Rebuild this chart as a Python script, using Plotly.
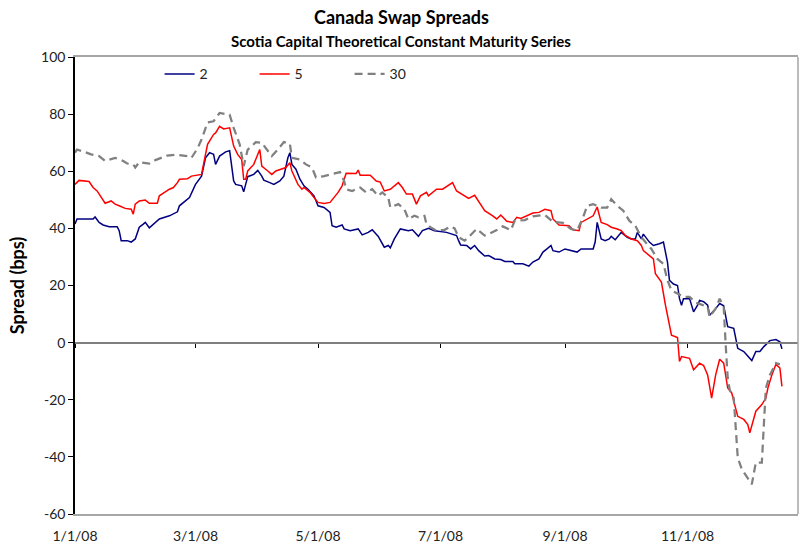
import plotly.graph_objects as go

# ---------------- data ----------------
dates_2y = ["2008-01-01","2008-01-02","2008-01-10","2008-01-11","2008-01-13","2008-01-15","2008-01-18","2008-01-22","2008-01-23","2008-01-24","2008-01-27","2008-01-29","2008-01-31",
            "2008-02-02","2008-02-04","2008-02-05","2008-02-07","2008-02-09","2008-02-12","2008-02-17","2008-02-21","2008-02-22","2008-02-27",
            "2008-03-01","2008-03-04","2008-03-06","2008-03-08","2008-03-10","2008-03-11","2008-03-13","2008-03-16","2008-03-18","2008-03-20","2008-03-21","2008-03-24","2008-03-25","2008-03-27","2008-03-30",
            "2008-04-01","2008-04-03","2008-04-04","2008-04-07","2008-04-09","2008-04-12","2008-04-14","2008-04-16","2008-04-17","2008-04-18","2008-04-20","2008-04-22","2008-04-24","2008-04-26","2008-04-29",
            "2008-05-01","2008-05-04","2008-05-07","2008-05-08","2008-05-10","2008-05-13","2008-05-14","2008-05-17","2008-05-21","2008-05-23","2008-05-26","2008-05-28","2008-05-31",
            "2008-06-03","2008-06-05","2008-06-06","2008-06-08","2008-06-11","2008-06-15","2008-06-17","2008-06-20","2008-06-22","2008-06-25","2008-06-28",
            "2008-07-04","2008-07-07","2008-07-09","2008-07-10","2008-07-11","2008-07-14","2008-07-16","2008-07-18","2008-07-20","2008-07-23","2008-07-25","2008-07-28","2008-07-31",
            "2008-08-02","2008-08-06","2008-08-07","2008-08-11","2008-08-14","2008-08-16","2008-08-19","2008-08-21","2008-08-23","2008-08-25","2008-08-26","2008-08-29",
            "2008-09-01","2008-09-04","2008-09-07","2008-09-09","2008-09-12","2008-09-15","2008-09-16","2008-09-17","2008-09-19","2008-09-21","2008-09-23","2008-09-24","2008-09-26","2008-09-29",
            "2008-10-02","2008-10-04","2008-10-06","2008-10-07","2008-10-09","2008-10-10","2008-10-13","2008-10-15","2008-10-18","2008-10-20","2008-10-22","2008-10-23","2008-10-25","2008-10-27","2008-10-28","2008-10-29","2008-10-30",
            "2008-11-02","2008-11-04","2008-11-06","2008-11-07","2008-11-09","2008-11-11","2008-11-12","2008-11-15","2008-11-17","2008-11-19","2008-11-20","2008-11-21","2008-11-24","2008-11-26","2008-11-29",
            "2008-12-03","2008-12-05","2008-12-07","2008-12-09","2008-12-10","2008-12-12","2008-12-15","2008-12-17","2008-12-18"]
spread_2y = [41.5,43.3,43.3,44.0,42.1,41.2,40.6,40.6,39.2,35.7,35.7,35.2,36.3,
             40.4,41.5,42.1,40.2,41.5,43.3,44.4,45.8,47.9,50.8,
             55.4,58.3,64.7,66.5,65.9,62.4,65.3,66.8,67.2,56.6,55.4,54.9,52.8,58.1,58.9,
             60.3,58.3,56.9,56.0,55.4,56.6,58.3,64.7,66.5,62.4,60.7,57.2,54.9,53.7,51.4,
             47.9,47.3,45.6,40.9,40.4,41.2,39.8,39.2,39.8,37.7,38.6,39.5,37.2,
             33.4,34.0,33.2,36.3,39.8,39.2,39.5,37.2,39.2,40.0,39.2,
             38.6,38.0,37.5,35.7,34.2,34.0,32.8,34.0,32.2,30.3,30.5,29.3,29.1,
             28.4,28.4,27.6,27.6,26.8,28.2,29.3,31.7,32.8,34.0,32.2,31.7,
             32.8,32.2,31.7,32.8,32.8,32.8,35.2,42.1,36.3,35.7,36.3,37.2,36.0,38.6,
             36.9,36.3,36.3,38.6,36.3,38.0,35.2,34.0,34.6,35.2,28.2,21.8,20.5,20.0,15.4,13.1,15.4,
             15.4,10.8,13.1,14.8,14.3,13.1,9.6,11.9,13.7,12.9,8.5,5.6,5.0,-2.0,-3.1,
             -6.3,-3.1,-3.1,-1.4,-0.8,0.7,1.1,0.3,-2.2]

dates_5y = ["2008-01-01","2008-01-03","2008-01-08","2008-01-10","2008-01-12","2008-01-14","2008-01-16","2008-01-19","2008-01-21","2008-01-23","2008-01-26","2008-01-29","2008-01-30","2008-01-31",
            "2008-02-02","2008-02-05","2008-02-07","2008-02-11","2008-02-12","2008-02-17","2008-02-19","2008-02-21","2008-02-22","2008-02-26","2008-02-28",
            "2008-03-04","2008-03-06","2008-03-07","2008-03-10","2008-03-11","2008-03-13","2008-03-15","2008-03-18","2008-03-20","2008-03-22","2008-03-24","2008-03-25","2008-03-26","2008-03-27","2008-03-30",
            "2008-04-02","2008-04-03","2008-04-06","2008-04-08","2008-04-10","2008-04-15","2008-04-17","2008-04-18","2008-04-21","2008-04-23","2008-04-24","2008-04-27","2008-04-29",
            "2008-05-01","2008-05-04","2008-05-07","2008-05-11","2008-05-13","2008-05-15","2008-05-20","2008-05-21","2008-05-22","2008-05-27","2008-05-30",
            "2008-06-01","2008-06-03","2008-06-06","2008-06-10","2008-06-12","2008-06-14","2008-06-17","2008-06-19","2008-06-21","2008-06-24","2008-06-25","2008-06-29",
            "2008-07-02","2008-07-07","2008-07-09","2008-07-13","2008-07-15","2008-07-18","2008-07-20","2008-07-23","2008-07-27","2008-07-29","2008-07-31",
            "2008-08-02","2008-08-03","2008-08-06","2008-08-08","2008-08-10","2008-08-13","2008-08-16","2008-08-19","2008-08-22","2008-08-25","2008-08-26","2008-08-29",
            "2008-09-03","2008-09-05","2008-09-08","2008-09-09","2008-09-12","2008-09-15","2008-09-17","2008-09-19","2008-09-22","2008-09-24","2008-09-27","2008-09-29",
            "2008-10-01","2008-10-04","2008-10-07","2008-10-09","2008-10-10","2008-10-13","2008-10-15","2008-10-16","2008-10-18","2008-10-19","2008-10-21","2008-10-23","2008-10-24","2008-10-27","2008-10-28","2008-10-29",
            "2008-11-02","2008-11-04","2008-11-07","2008-11-09","2008-11-11","2008-11-13","2008-11-15","2008-11-17","2008-11-19","2008-11-21","2008-11-23","2008-11-24","2008-11-26","2008-11-29",
            "2008-12-01","2008-12-02","2008-12-04","2008-12-05","2008-12-08","2008-12-10","2008-12-11","2008-12-13","2008-12-15","2008-12-17","2008-12-18"]
spread_5y = [55.4,56.8,56.4,54.3,53.1,50.8,48.8,49.6,48.5,47.9,47.0,46.7,45.0,48.5,
             49.6,49.9,48.8,48.8,51.4,53.7,54.3,56.0,57.2,57.4,58.3,
             58.9,65.9,69.4,72.9,73.4,75.7,74.8,75.2,68.8,65.9,64.1,57.2,57.2,60.1,62.4,
             67.6,61.8,60.1,58.9,60.1,61.3,63.0,60.1,55.4,53.7,54.3,52.6,50.8,
             49.1,48.7,49.1,52.6,54.9,59.3,59.2,60.4,58.6,58.6,56.6,
             56.2,53.1,53.7,56.0,54.3,52.0,52.0,48.5,51.4,52.6,51.4,53.7,
             53.7,56.0,53.1,51.4,50.5,51.6,49.6,46.2,44.4,43.3,44.7,
             43.3,42.5,42.1,43.9,43.5,44.4,45.4,45.6,46.7,46.2,43.3,41.2,
             40.9,39.5,39.2,42.1,43.3,44.4,47.5,42.1,41.3,40.4,39.8,39.2,
             37.5,36.3,35.7,34.0,32.2,30.5,29.3,24.1,22.4,21.2,13.1,6.7,2.6,1.8,-6.6,-4.9,
             -5.5,-9.5,-7.2,-8.0,-11.3,-19.4,-11.3,-5.8,-7.2,-15.9,-17.6,-20.5,-25.8,-26.9,
             -28.7,-31.6,-26.3,-24.0,-21.7,-19.4,-15.9,-11.3,-7.6,-8.9,-15.3]

dates_30y = ["2008-01-01","2008-01-02","2008-01-06","2008-01-09","2008-01-13","2008-01-16","2008-01-21","2008-01-25","2008-01-27","2008-01-30","2008-01-31",
             "2008-02-02","2008-02-07","2008-02-10","2008-02-16","2008-02-20","2008-02-26","2008-02-28",
             "2008-03-02","2008-03-04","2008-03-07","2008-03-10","2008-03-13","2008-03-18","2008-03-20","2008-03-23","2008-03-25","2008-03-27","2008-03-29","2008-03-31",
             "2008-04-03","2008-04-08","2008-04-11","2008-04-14","2008-04-17","2008-04-18","2008-04-22","2008-04-25","2008-04-28","2008-04-30",
             "2008-05-04","2008-05-07","2008-05-12","2008-05-14","2008-05-15","2008-05-18","2008-05-22","2008-05-25","2008-05-28","2008-05-31",
             "2008-06-02","2008-06-05","2008-06-06","2008-06-10","2008-06-13","2008-06-15","2008-06-18","2008-06-20","2008-06-23","2008-06-24","2008-06-26","2008-06-29",
             "2008-07-03","2008-07-06","2008-07-08","2008-07-10","2008-07-13","2008-07-15","2008-07-19","2008-07-23","2008-07-25","2008-07-29",
             "2008-08-01","2008-08-05","2008-08-07","2008-08-12","2008-08-16","2008-08-22","2008-08-26","2008-08-31",
             "2008-09-04","2008-09-07","2008-09-10","2008-09-12","2008-09-15","2008-09-19","2008-09-22","2008-09-24","2008-09-27","2008-09-30",
             "2008-10-03","2008-10-06","2008-10-09","2008-10-11","2008-10-14","2008-10-17","2008-10-20","2008-10-22","2008-10-24","2008-10-27","2008-10-30",
             "2008-11-02","2008-11-05","2008-11-08","2008-11-11","2008-11-12","2008-11-15","2008-11-17","2008-11-19","2008-11-20","2008-11-21","2008-11-22","2008-11-24","2008-11-25","2008-11-26","2008-11-28","2008-11-30",
             "2008-12-03","2008-12-05","2008-12-08","2008-12-09","2008-12-10","2008-12-12","2008-12-15","2008-12-17"]
spread_30y = [66.5,67.6,66.7,65.9,65.3,63.6,64.7,63.6,62.7,62.4,61.3,
              63.2,62.7,63.9,65.5,65.8,65.3,64.7,
              68.0,71.1,77.1,77.5,80.4,79.8,75.2,69.4,61.8,67.6,68.8,70.2,
              70.0,65.3,67.6,70.2,69.6,64.7,64.1,62.4,61.3,57.8,
              58.3,58.9,59.7,56.6,53.7,53.1,54.3,52.6,53.7,51.4,
              52.6,50.8,47.3,48.5,46.7,43.3,44.4,43.9,44.4,41.5,40.4,39.2,
              39.5,40.7,40.0,36.9,35.7,36.9,39.8,37.5,38.0,39.4,
              40.7,39.4,42.7,42.9,44.2,44.7,42.3,41.9,
              39.8,39.2,43.9,47.9,48.5,47.3,47.3,50.2,47.9,46.2,
              42.7,40.9,36.9,35.2,32.8,29.3,27.6,21.8,18.3,17.2,16.0,
              16.0,14.0,13.3,12.5,9.0,11.9,15.4,12.5,-0.8,-12.4,-16.5,-19.4,-29.8,-40.3,-44.3,-46.6,
              -49.6,-42.0,-42.0,-28.7,-15.9,-11.3,-7.2,-7.6]

series_names = ["2", "5", "30"]
tick_dates = ["2008-01-01", "2008-03-01", "2008-05-01", "2008-07-01", "2008-09-01", "2008-11-01"]
tick_labels = ["1/1/08", "3/1/08", "5/1/08", "7/1/08", "9/1/08", "11/1/08"]
x_range = ["2008-01-01", "2008-12-26"]
y_range = [-60, 100]
y_step = 20
title_text = "Canada Swap Spreads"
subtitle_text = "Scotia Capital Theoretical Constant Maturity Series"
y_title = "Spread (bps)"

y_ticks = list(range(y_range[0], y_range[1] + 1, y_step))
y_ticktext = [str(v) for v in y_ticks]

TXT = "Lato, Roboto, 'Liberation Sans', sans-serif"

W, H = 802, 548
M = dict(l=75, r=4, t=57, b=31)
# paper x that sits at the horizontal centre of the whole figure
title_x = (W / 2 - M["l"]) / (W - M["l"] - M["r"])

fig = go.Figure()
fig.add_trace(go.Scatter(x=dates_2y, y=spread_2y, name=series_names[0], mode="lines",
                         line=dict(color="#000080", width=1.5)))
fig.add_trace(go.Scatter(x=dates_5y, y=spread_5y, name=series_names[1], mode="lines",
                         line=dict(color="#FF0000", width=1.5)))
fig.add_trace(go.Scatter(x=dates_30y, y=spread_30y, name=series_names[2], mode="lines", xaxis="x2",
                         line=dict(color="#808080", width=2.25, dash="8px,5px")))

zero_pos = (0 - y_range[0]) / (y_range[1] - y_range[0])

fig.update_layout(
    width=W, height=H,
    margin=M,
    paper_bgcolor="white", plot_bgcolor="white",
    font=dict(family=TXT, size=13, color="#222222"),
    showlegend=True,
    legend=dict(orientation="h", x=0.117, xanchor="left", y=0.997, yanchor="top",
                bgcolor="rgba(0,0,0,0)", font=dict(family=TXT, size=14, color="#222222"),
                entrywidth=50, entrywidthmode="pixels", itemwidth=30, tracegroupgap=0),
    xaxis=dict(
        type="date", range=x_range,
        tickvals=tick_dates, ticktext=tick_labels,
        ticks="", showgrid=False, zeroline=False,
        showline=True, linecolor="#a6a6a6", linewidth=1.5, mirror=True,
        tickfont=dict(family=TXT, size=14, color="#222222"),
        ticklabelstandoff=8,
    ),
    xaxis2=dict(
        type="date", overlaying="x", matches="x", anchor="free", position=zero_pos,
        tickvals=tick_dates, showticklabels=False,
        ticks="outside", ticklen=4, tickwidth=1, tickcolor="#000000",
        showline=True, linecolor="#7f7f7f", linewidth=2,
        showgrid=False, zeroline=False,
    ),
    yaxis=dict(
        range=y_range, tickvals=y_ticks, ticktext=y_ticktext,
        ticks="outside", ticklen=5, tickcolor="#000000",
        showline=True, linecolor="#000000", linewidth=1.5,
        showgrid=False, zeroline=False,
        tickfont=dict(family=TXT, size=14, color="#222222"),
        title=dict(text="<b>" + y_title + "</b>", font=dict(family=TXT, size=18, color="#000000"), standoff=12),
    ),
    shapes=[dict(type="line", xref="paper", yref="paper", x0=1, x1=1, y0=0, y1=1,
                 line=dict(color="#a6a6a6", width=1.5))],
    annotations=[
        dict(text="<b>" + title_text + "</b>", xref="paper", yref="paper", x=title_x, y=1.087,
             xanchor="center", yanchor="middle", showarrow=False,
             font=dict(family=TXT, size=18, color="#000000")),
        dict(text="<b>" + subtitle_text + "</b>", xref="paper", yref="paper", x=title_x, y=1.034,
             xanchor="center", yanchor="middle", showarrow=False,
             font=dict(family=TXT, size=15, color="#000000")),
    ],
)

fig.write_html("out.html")
